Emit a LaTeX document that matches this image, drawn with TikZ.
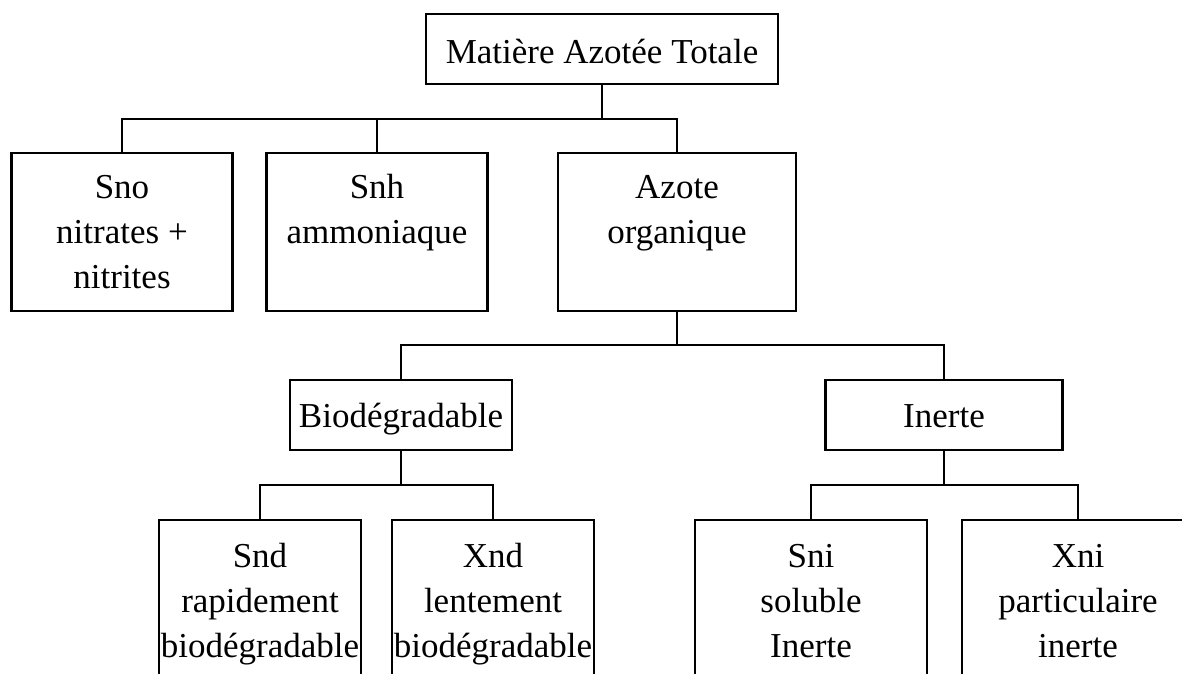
\documentclass[tikz,border=0pt]{standalone}
\usepackage{fontspec}
\setmainfont{Liberation Serif}
% Box content: width, height, distance from top to first baseline, text
\newcommand{\celltext}[4]{%
  \begin{minipage}[t][#2][t]{#1}\centering\rule{0pt}{#3}#4\end{minipage}}
\begin{document}
\begin{tikzpicture}[x=1pt,y=-1pt,
  cellbox/.style={draw, inner sep=0pt, outer sep=0pt, anchor=north,
    line width=2.8pt, font=\fontsize{35}{45}\selectfont},
  wire/.style={draw, line width=2.8pt}]
\useasboundingbox (0,0) rectangle (1182,673);
\clip (0,0) rectangle (1182,673);

% top level
\node[cellbox] (mat) at (602,14) {\celltext{352pt}{70pt}{49pt}{Matière Azotée Totale}};

% second level
\node[cellbox] (sno) at (122,153) {\celltext{221pt}{158pt}{45pt}{Sno\\nitrates +\\nitrites}};
\node[cellbox] (snh) at (377,153) {\celltext{221pt}{158pt}{45pt}{Snh\\ammoniaque}};
\node[cellbox] (azo) at (677,153) {\celltext{238pt}{158pt}{45pt}{Azote\\organique}};

% organic nitrogen split
\node[cellbox] (bio) at (401,380) {\celltext{222pt}{70pt}{47pt}{Biodégradable}};
\node[cellbox] (ine) at (944,380) {\celltext{237pt}{70pt}{47pt}{Inerte}};

% fractions
\node[cellbox] (snd) at (260,520) {\celltext{202pt}{180pt}{47pt}{Snd\\rapidement\\biodégradable}};
\node[cellbox] (xnd) at (493,520) {\celltext{202pt}{180pt}{47pt}{Xnd\\lentement\\biodégradable}};
\node[cellbox] (sni) at (811,520) {\celltext{232pt}{180pt}{47pt}{Sni\\soluble\\Inerte}};
\node[cellbox] (xni) at (1078,520) {\celltext{232pt}{180pt}{47pt}{Xni\\particulaire\\inerte}};

% bus junctions
\path (mat.south) ++(0,35) coordinate (b1);
\path (azo.south) ++(0,34) coordinate (b2);
\path (bio.south) ++(0,35) coordinate (b3);
\path (ine.south) ++(0,35) coordinate (b4);

% connectors
\path[wire] (mat.south) -- (b1);
\path[wire] (sno.north) |- (b1) -| (azo.north);
\path[wire] (snh.north) -- (snh.north |- b1);

\path[wire] (azo.south) -- (b2);
\path[wire] (bio.north) |- (b2) -| (ine.north);

\path[wire] (bio.south) -- (b3);
\path[wire] (snd.north) |- (b3) -| (xnd.north);

\path[wire] (ine.south) -- (b4);
\path[wire] (sni.north) |- (b4) -| (xni.north);
\end{tikzpicture}
\end{document}
